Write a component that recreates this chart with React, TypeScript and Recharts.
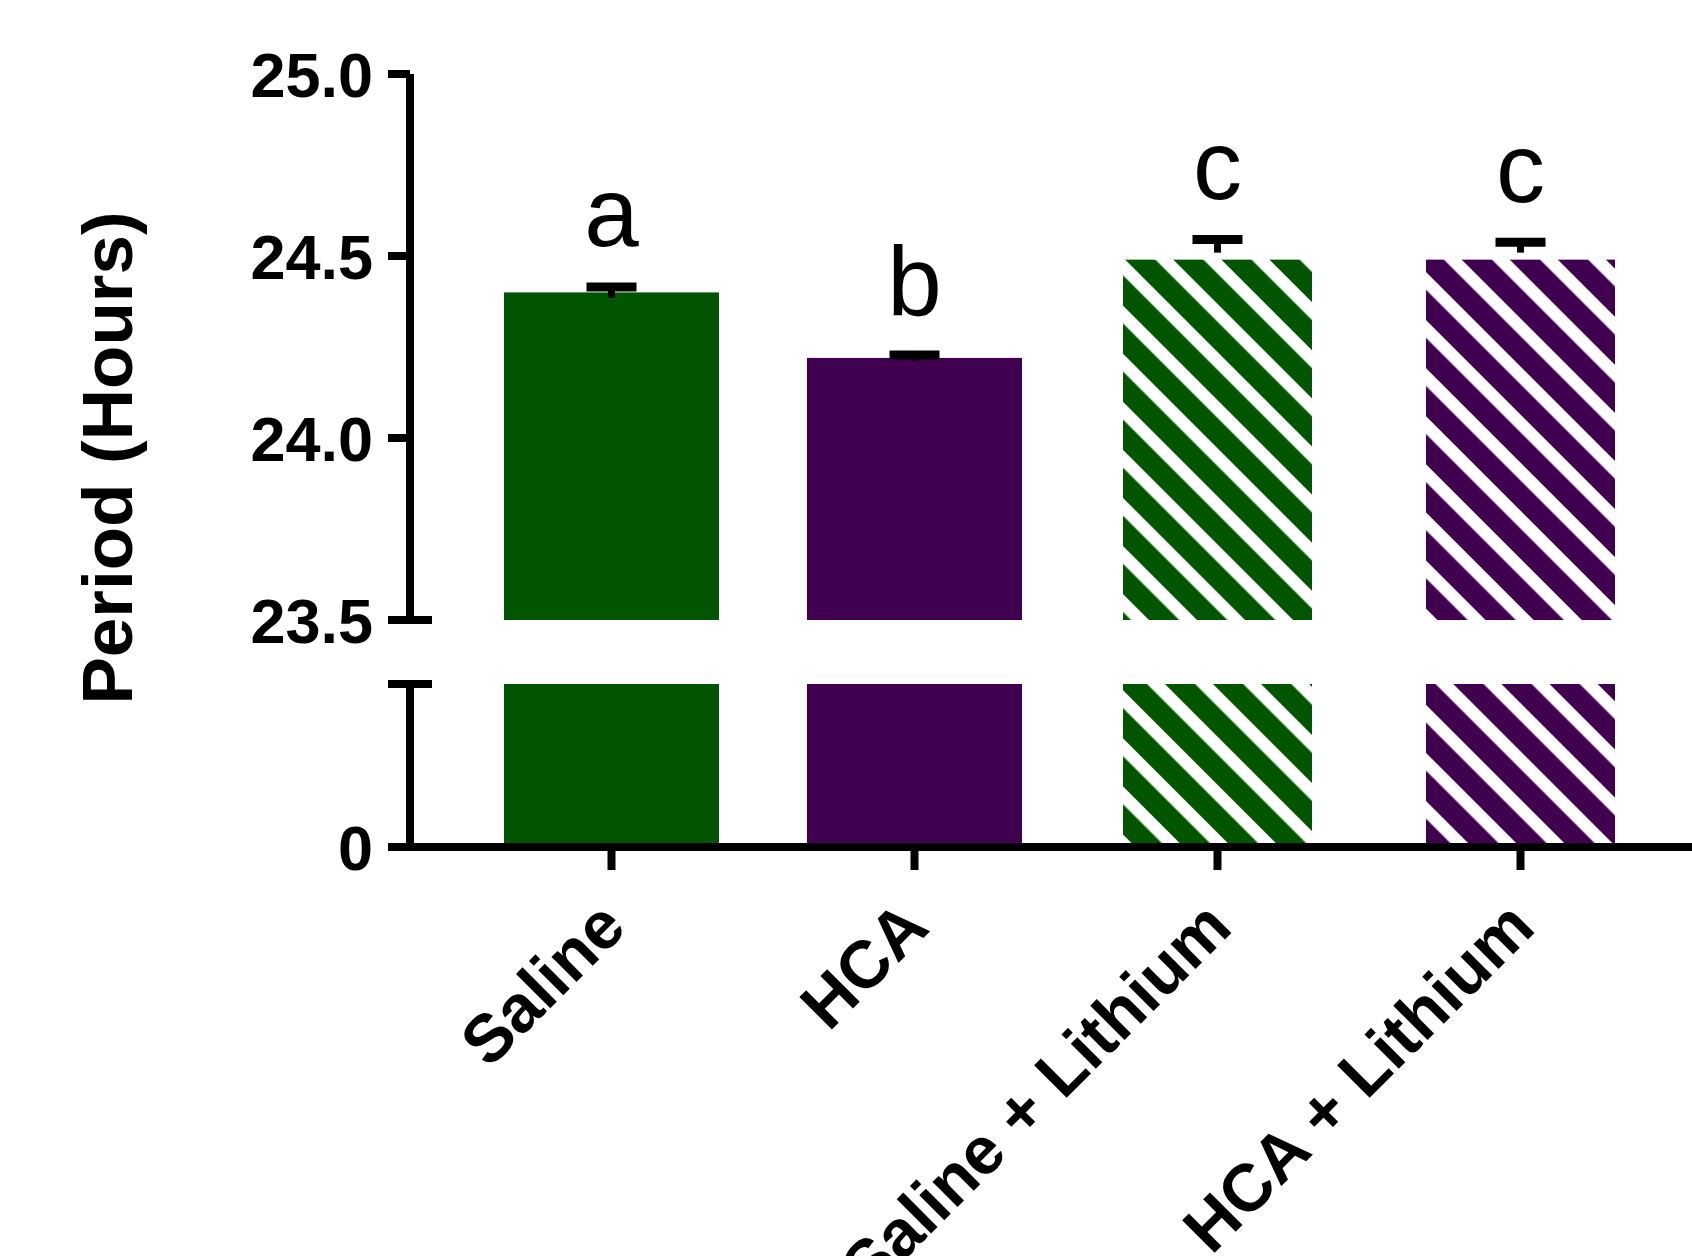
import React from "react";
import { BarChart, Bar, XAxis, YAxis } from "recharts";

// ---- data ----
const CATEGORIES = ["Saline", "HCA", "Saline + Lithium", "HCA + Lithium"];
const DRUG = ["Saline", "HCA", "Saline", "HCA"];
const WITH_LITHIUM = [false, false, true, true];
const PERIOD_MEAN = [24.4, 24.22, 24.49, 24.49];
const PERIOD_SEM = [0.015, 0.008, 0.055, 0.048];
const SIG_LETTERS = ["a", "b", "c", "c"];
const UPPER_TICKS = [23.5, 24.0, 24.5, 25.0];
const LOWER_TICKS = [0, 23.5];

const UPPER_DOMAIN: [number, number] = [23.5, 25];
const LOWER_DOMAIN: [number, number] = [0, 23.5];

const data = CATEGORIES.map((name, i) => ({
  name,
  drug: DRUG[i],
  lithium: WITH_LITHIUM[i],
  mean: PERIOD_MEAN[i],
  sem: PERIOD_SEM[i],
  letter: SIG_LETTERS[i],
}));

// ---- styles ----
const COLORS: Record<string, string> = { Saline: "#015501", HCA: "#40004f" };
const FONT = "'Liberation Sans', Arial, Helvetica, sans-serif";
const W = 1692;
const H = 1256;
const AXIS_W = 410;
const STROKE = 8;
const TICK = 22;
const TICK_GAP = 15;
const BAR_SIZE = 215;
const HATCH_RATIO = 189 / 215;
const P = 34;

function makeBarShape(section: "upper" | "lower") {
  return (props: any) => {
    const { x, y, width, height, index } = props;
    const d = props.payload && props.payload.name ? props.payload : data[index];
    const color = COLORS[d.drug];
    const hatched = d.lithium;
    const w = hatched ? width * HATCH_RATIO : width;
    const bx = x + (width - w) / 2;
    const fill = hatched ? `url(#hatch-${d.drug})` : color;
    const rect = <rect x={bx} y={y} width={w} height={height} fill={fill} />;
    if (section === "lower") return rect;
    const ppu = height / (d.mean - UPPER_DOMAIN[0]);
    const semPx = d.sem * ppu;
    const cx = x + width / 2;
    const yCap = y - semPx;
    const stemEnd = hatched ? y - 7 : y + semPx;
    return (
      <g>
        {rect}
        <line x1={cx} x2={cx} y1={yCap} y2={stemEnd} stroke="#000" strokeWidth={7} />
        <line x1={cx - 25} x2={cx + 25} y1={yCap} y2={yCap} stroke="#000" strokeWidth={9} />
        <text
          x={cx}
          y={yCap - 4.5 - 36}
          textAnchor="middle"
          fontSize={98}
          fontFamily={FONT}
          fill="#000"
        >
          {d.letter}
        </text>
      </g>
    );
  };
}

const makeYTick = (breakValue: number, showBreakLabel: boolean) => (props: any) => {
  const { x, y, payload } = props;
  const v = payload.value;
  const axisX = x + TICK_GAP + TICK;
  const isBreak = v === breakValue;
  const label = v === 0 ? "0" : v.toFixed(1);
  return (
    <g>
      {isBreak && (
        <line x1={axisX - TICK} x2={axisX + TICK} y1={y} y2={y} stroke="#000" strokeWidth={STROKE} />
      )}
      {(!isBreak || showBreakLabel) && (
        <text
          x={x}
          y={y}
          dy="0.36em"
          textAnchor="end"
          fontSize={63}
          fontWeight="bold"
          fontFamily={FONT}
          fill="#000"
        >
          {label}
        </text>
      )}
    </g>
  );
};

const XTick = (props: any) => {
  const { x, y, payload } = props;
  const ax = x + 17;
  const ay = y + 58;
  return (
    <text
      x={ax}
      y={ay}
      transform={`rotate(-45, ${ax}, ${ay})`}
      textAnchor="end"
      fontSize={67}
      fontWeight="bold"
      fontFamily={FONT}
      fill="#000"
    >
      {payload.value}
    </text>
  );
};

const YTitle = () => (
  <text
    x={132}
    y={458}
    transform="rotate(-90, 132, 458)"
    textAnchor="middle"
    fontSize={71}
    fontWeight="bold"
    fontFamily={FONT}
    fill="#000"
  >
    Period (Hours)
  </text>
);

export default function App() {
  const axisLine = { stroke: "#000", strokeWidth: STROKE };
  const tickLine = { stroke: "#000", strokeWidth: STROKE };
  return (
    <div style={{ position: "absolute", left: 0, top: 0, width: W, height: H, background: "#fff", overflow: "hidden" }}>
      <svg width={0} height={0} style={{ position: "absolute" }}>
        <defs>
          {Object.keys(COLORS).map((k) => (
            <pattern
              key={k}
              id={`hatch-${k}`}
              patternUnits="userSpaceOnUse"
              width={P}
              height={P}
              patternTransform="rotate(-45)"
            >
              <rect x={0} y={0} width={P} height={P} fill="#fff" />
              <rect x={0} y={0} width={P * 0.63} height={P} fill={COLORS[k]} />
            </pattern>
          ))}
        </defs>
      </svg>

      {/* lower segment with x axis */}
      <div style={{ position: "absolute", left: 0, top: 0 }}>
        <BarChart
          width={W}
          height={H}
          data={data}
          margin={{ top: 684, right: 0, bottom: 0, left: 0 }}
          barSize={BAR_SIZE}
        >
          <XAxis
            dataKey="name"
            height={H - 847}
            interval={0}
            padding={{ left: 50, right: 20 }}
            axisLine={axisLine}
            tickLine={tickLine}
            tickSize={23}
            tick={<XTick />}
          />
          <YAxis
            width={AXIS_W}
            domain={LOWER_DOMAIN}
            allowDataOverflow
            ticks={LOWER_TICKS}
            axisLine={axisLine}
            tickLine={tickLine}
            tickSize={TICK}
            tickMargin={TICK_GAP}
            tick={makeYTick(23.5, false)}
            label={<YTitle />}
          />
          <Bar dataKey="mean" isAnimationActive={false} shape={makeBarShape("lower")} />
        </BarChart>
      </div>

      {/* upper segment */}
      <div style={{ position: "absolute", left: 0, top: 0 }}>
        <BarChart
          width={W}
          height={680}
          data={data}
          margin={{ top: 74, right: 0, bottom: 60, left: 0 }}
          barSize={BAR_SIZE}
        >
          <XAxis dataKey="name" hide padding={{ left: 50, right: 20 }} />
          <YAxis
            width={AXIS_W}
            domain={UPPER_DOMAIN}
            ticks={UPPER_TICKS}
            axisLine={axisLine}
            tickLine={tickLine}
            tickSize={TICK}
            tickMargin={TICK_GAP}
            tick={makeYTick(23.5, true)}
          />
          <Bar dataKey="mean" isAnimationActive={false} shape={makeBarShape("upper")} />
        </BarChart>
      </div>
    </div>
  );
}
